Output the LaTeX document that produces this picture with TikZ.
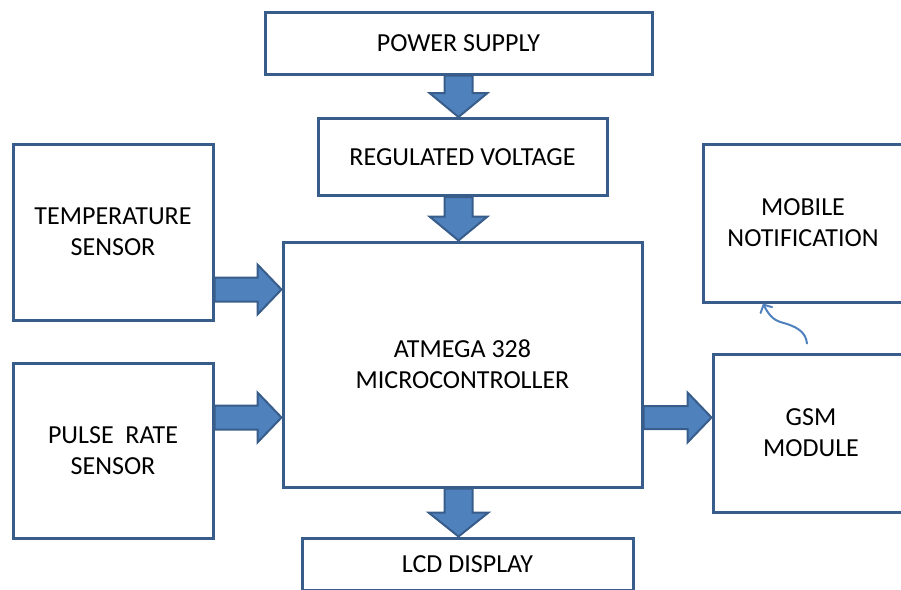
\documentclass[tikz,border=0pt]{standalone}
\usepackage{fontspec}
\setmainfont{Carlito}
\usepackage{xcolor}
\definecolor{Col1}{RGB}{56,93,138}
\definecolor{Col2}{RGB}{79,129,189}
\usepackage{tikz}
\usetikzlibrary{calc}
\usetikzlibrary{arrows.meta}
\tikzstyle{Block}=[rectangle,draw=Col1,line width=3pt,inner sep=0pt,
align=center,font=\fontsize{26}{31}\selectfont]
\tikzstyle{BArrow}=[draw=Col1,fill=Col2,line width=2pt,line join=miter]
\tikzstyle{Link}=[draw=Col2,line width=2pt,line cap=round,
-{Straight Barb[length=6pt,width=13pt,line cap=round]}]
% block arrow: from, to, half shaft, half head
\newcommand{\BlockArrow}[4]{%
    \coordinate(h)at($(#2)!24pt!(#1)$);
    \draw[BArrow]($(#1)!#3!90:(#2)$)--($(h)!#3!90:(#2)$)--($(h)!#4!90:(#2)$)
        --(#2)--($(h)!#4!-90:(#2)$)--($(h)!#3!-90:(#2)$)--($(#1)!#3!-90:(#2)$)--cycle;}

\begin{document}
\begin{tikzpicture}[x=1pt,y=1pt]
        \clip(0,0)rectangle(901,-589);
        \node[Block,minimum width=387pt,minimum height=62pt](pwr)at(458.5,-43.0){POWER SUPPLY};
        \node[Block,minimum width=289pt,minimum height=77pt](reg)at(462.5,-157.0){REGULATED VOLTAGE};
        \node[Block,minimum width=200pt,minimum height=176pt](temp)at(113.0,-232.0){TEMPERATURE\\SENSOR};
        \node[Block,minimum width=200pt,minimum height=175pt](pulse)at(113.0,-450.5){PULSE\ \ RATE\\SENSOR};
        \node[Block,minimum width=359pt,minimum height=245pt](mcu)at(462.5,-364.5){ATMEGA 328\\MICROCONTROLLER};
        \node[Block,minimum width=200pt,minimum height=158pt](mob)at(803.0,-223.0){MOBILE\\NOTIFICATION};
        \node[Block,minimum width=196pt,minimum height=158pt](gsm)at(811.0,-433.0){GSM\\MODULE};
        \node[Block,minimum width=331pt,minimum height=52pt](lcd)at(467.5,-564.0){LCD DISPLAY};
        \coordinate(ta)at([yshift=32pt]temp.south east);
        \coordinate(pa)at([yshift=-56pt]pulse.north east);
        \coordinate(ga)at(mcu.east|-pa);
        \BlockArrow{pwr.south}{pwr.south|-reg.north}{14pt}{29pt}
        \BlockArrow{pwr.south|-reg.south}{pwr.south|-mcu.north}{14pt}{29pt}
        \BlockArrow{ta}{ta-|mcu.west}{12pt}{25pt}
        \BlockArrow{pa}{pa-|mcu.west}{12pt}{25pt}
        \BlockArrow{ga}{ga-|gsm.west}{11.5pt}{25pt}
        \BlockArrow{pwr.south|-mcu.south}{pwr.south|-lcd.north}{14pt}{30pt}
        \coordinate(c1)at([xshift=-4pt,yshift=9pt]gsm.north);
        \coordinate(c2)at([xshift=-40pt]mob.south);
        \coordinate(c3)at(782,-322.5);
        \draw[Link](c1)to[out=95,in=-15](c3)to[out=165,in=-63](c2);
    \end{tikzpicture}
\end{document}
